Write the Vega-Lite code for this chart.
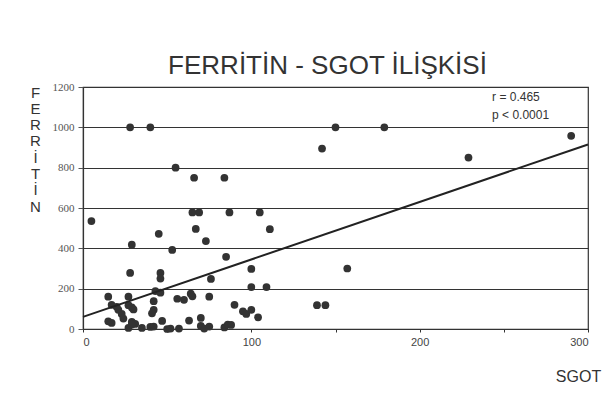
{
  "$schema": "https://vega.github.io/schema/vega-lite/v6.json",
  "width": 505,
  "height": 242,
  "autosize": {"type": "none"},
  "padding": {"left": 83, "top": 87, "right": 23, "bottom": 89},
  "background": "white",
  "title": {
    "text": "FERRİTİN - SGOT İLİŞKİSİ",
    "font": "Liberation Sans",
    "fontSize": 26,
    "fontWeight": "normal",
    "color": "#333333",
    "anchor": "middle",
    "frame": "group",
    "baseline": "alphabetic",
    "offset": 1,
    "dx": -8,
    "dy": 20
  },
  "datasets": {
    "points": [
      {"SGOT": 5, "FERRITIN": 535},
      {"SGOT": 28, "FERRITIN": 1000},
      {"SGOT": 40, "FERRITIN": 1000},
      {"SGOT": 150, "FERRITIN": 1000},
      {"SGOT": 179, "FERRITIN": 1000},
      {"SGOT": 290, "FERRITIN": 958},
      {"SGOT": 142, "FERRITIN": 895},
      {"SGOT": 229, "FERRITIN": 850},
      {"SGOT": 55, "FERRITIN": 800},
      {"SGOT": 66, "FERRITIN": 750},
      {"SGOT": 84, "FERRITIN": 750},
      {"SGOT": 65, "FERRITIN": 578},
      {"SGOT": 69, "FERRITIN": 578},
      {"SGOT": 87, "FERRITIN": 578},
      {"SGOT": 105, "FERRITIN": 578},
      {"SGOT": 67, "FERRITIN": 496},
      {"SGOT": 111, "FERRITIN": 495},
      {"SGOT": 45, "FERRITIN": 472},
      {"SGOT": 73, "FERRITIN": 436},
      {"SGOT": 29, "FERRITIN": 418},
      {"SGOT": 53, "FERRITIN": 392},
      {"SGOT": 85, "FERRITIN": 358},
      {"SGOT": 100, "FERRITIN": 298},
      {"SGOT": 157, "FERRITIN": 300},
      {"SGOT": 28, "FERRITIN": 278},
      {"SGOT": 46, "FERRITIN": 278},
      {"SGOT": 46, "FERRITIN": 250},
      {"SGOT": 76, "FERRITIN": 248},
      {"SGOT": 100, "FERRITIN": 208},
      {"SGOT": 109, "FERRITIN": 208},
      {"SGOT": 15, "FERRITIN": 160},
      {"SGOT": 27, "FERRITIN": 160},
      {"SGOT": 43, "FERRITIN": 188},
      {"SGOT": 46, "FERRITIN": 180},
      {"SGOT": 56, "FERRITIN": 150},
      {"SGOT": 60, "FERRITIN": 145},
      {"SGOT": 64, "FERRITIN": 175},
      {"SGOT": 65, "FERRITIN": 162},
      {"SGOT": 75, "FERRITIN": 160},
      {"SGOT": 17, "FERRITIN": 120},
      {"SGOT": 20, "FERRITIN": 110},
      {"SGOT": 21, "FERRITIN": 95},
      {"SGOT": 23, "FERRITIN": 75},
      {"SGOT": 24, "FERRITIN": 52},
      {"SGOT": 27, "FERRITIN": 118},
      {"SGOT": 29, "FERRITIN": 107},
      {"SGOT": 30, "FERRITIN": 97},
      {"SGOT": 42, "FERRITIN": 138},
      {"SGOT": 42, "FERRITIN": 95},
      {"SGOT": 41, "FERRITIN": 78},
      {"SGOT": 90, "FERRITIN": 120},
      {"SGOT": 95, "FERRITIN": 88},
      {"SGOT": 97, "FERRITIN": 75},
      {"SGOT": 100, "FERRITIN": 95},
      {"SGOT": 104, "FERRITIN": 58},
      {"SGOT": 139, "FERRITIN": 118},
      {"SGOT": 144, "FERRITIN": 118},
      {"SGOT": 15, "FERRITIN": 38},
      {"SGOT": 17, "FERRITIN": 30},
      {"SGOT": 27, "FERRITIN": 5},
      {"SGOT": 29, "FERRITIN": 35},
      {"SGOT": 31, "FERRITIN": 25},
      {"SGOT": 35, "FERRITIN": 5},
      {"SGOT": 40, "FERRITIN": 10},
      {"SGOT": 42, "FERRITIN": 12},
      {"SGOT": 47, "FERRITIN": 40},
      {"SGOT": 50, "FERRITIN": 0},
      {"SGOT": 52, "FERRITIN": 2},
      {"SGOT": 57, "FERRITIN": 2},
      {"SGOT": 63, "FERRITIN": 42},
      {"SGOT": 70, "FERRITIN": 55},
      {"SGOT": 70, "FERRITIN": 15},
      {"SGOT": 72, "FERRITIN": 2},
      {"SGOT": 75, "FERRITIN": 12},
      {"SGOT": 84, "FERRITIN": 8},
      {"SGOT": 86, "FERRITIN": 22},
      {"SGOT": 88, "FERRITIN": 20},
      {"SGOT": 29, "FERRITIN": 22}
    ],
    "fit": [
      {"SGOT": 0, "FERRITIN": 60},
      {"SGOT": 300, "FERRITIN": 915}
    ],
    "notes": [
      {"SGOT": 243, "FERRITIN": 1150, "label": "r = 0.465"},
      {"SGOT": 243, "FERRITIN": 1060, "label": "p < 0.0001"}
    ]
  },
  "layer": [
    {
      "data": {"name": "points"},
      "mark": {"type": "point", "filled": true, "shape": "circle", "size": 60, "color": "#333333", "opacity": 1},
      "encoding": {
        "x": {
          "field": "SGOT", "type": "quantitative",
          "scale": {"domain": [0, 300], "nice": false, "zero": true},
          "axis": {
            "values": [0, 50, 100, 150, 200, 250, 300],
            "labelExpr": "datum.value % 100 === 0 ? datum.label : ''",
            "grid": false,
            "domainColor": "#333333",
            "domainWidth": 1.2,
            "tickColor": "#333333",
            "tickSize": 3,
            "labelFont": "Liberation Sans",
            "labelFontSize": 11,
            "labelColor": "#444444",
            "labelPadding": 4,
            "title": "SGOT",
            "titleFont": "Liberation Sans",
            "titleFontSize": 16,
            "titleFontWeight": "normal",
            "titleColor": "#333333",
            "titleX": 495,
            "titleY": 52,
            "titleAlign": "center",
            "titleBaseline": "alphabetic"
          }
        },
        "y": {
          "field": "FERRITIN", "type": "quantitative",
          "scale": {"domain": [0, 1200], "nice": false},
          "axis": {
            "values": [0, 100, 200, 300, 400, 500, 600, 700, 800, 900, 1000, 1100, 1200],
            "labelExpr": "datum.value % 200 === 0 ? datum.label : ''",
            "format": "d",
            "grid": true,
            "gridColor": "#333333",
            "gridWidth": 1,
            "gridOpacity": {"condition": {"test": "datum.value % 200 === 0", "value": 1}, "value": 0},
            "tickSize": {"condition": {"test": "datum.value % 200 === 0", "value": 5}, "value": 3},
            "domainColor": "#333333",
            "domainWidth": 1.2,
            "tickColor": "#555555",
            "labelFont": "Liberation Serif",
            "labelFontSize": 11,
            "labelColor": "#555555",
            "labelPadding": 4,
            "title": ["F", "E", "R", "R", "İ", "T", "İ", "N"],
            "titleFont": "Liberation Sans",
            "titleFontSize": 15,
            "titleFontWeight": "normal",
            "titleColor": "#333333",
            "titleAngle": 0,
            "titleAlign": "center",
            "titleBaseline": "top",
            "titleLineHeight": 16.3,
            "titleX": -48,
            "titleY": -2
          }
        }
      }
    },
    {
      "data": {"name": "fit"},
      "mark": {"type": "line", "color": "#222222", "strokeWidth": 2},
      "encoding": {
        "x": {"field": "SGOT", "type": "quantitative"},
        "y": {"field": "FERRITIN", "type": "quantitative"}
      }
    },
    {
      "data": {"name": "notes"},
      "mark": {"type": "text", "align": "left", "baseline": "middle", "font": "Liberation Sans", "fontSize": 12, "color": "#333333"},
      "encoding": {
        "x": {"field": "SGOT", "type": "quantitative"},
        "y": {"field": "FERRITIN", "type": "quantitative"},
        "text": {"field": "label"}
      }
    }
  ],
  "config": {
    "view": {"stroke": "#333333", "strokeWidth": 1.2}
  }
}
